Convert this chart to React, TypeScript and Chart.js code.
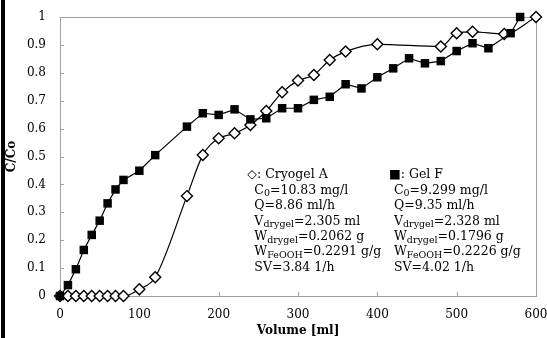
import React, { useEffect, useRef } from 'react';
import { Chart, registerables } from 'chart.js';

Chart.register(...registerables);

// Cryogel A (open diamonds)
const cryoVolume = [0, 10, 20, 30, 40, 50, 60, 70, 80, 100, 120, 160, 180, 200, 220, 240, 260, 280, 300, 320, 340, 360, 400, 480, 500, 520, 560, 600];
const cryoRatio = [0, 0, 0, 0, 0, 0, 0, 0, 0, 0.024, 0.067, 0.358, 0.505, 0.565, 0.583, 0.613, 0.663, 0.73, 0.772, 0.792, 0.846, 0.876, 0.902, 0.894, 0.942, 0.947, 0.939, 1.0];

// Gel F (filled squares)
const gelVolume = [0, 10, 20, 30, 40, 50, 60, 70, 80, 100, 120, 160, 180, 200, 220, 240, 260, 280, 300, 320, 340, 360, 380, 400, 420, 440, 460, 480, 500, 520, 540, 568, 580];
const gelRatio = [0, 0.039, 0.096, 0.165, 0.219, 0.27, 0.332, 0.382, 0.416, 0.449, 0.505, 0.607, 0.655, 0.649, 0.669, 0.633, 0.637, 0.673, 0.673, 0.703, 0.714, 0.759, 0.744, 0.784, 0.816, 0.852, 0.834, 0.842, 0.878, 0.906, 0.888, 0.942, 1.0];

const xTickValues = [0, 100, 200, 300, 400, 500, 600];
const xTickLabels = ['0', '100', '200', '300', '400', '500', '600'];
const yTickValues = [0, 0.1, 0.2, 0.3, 0.4, 0.5, 0.6, 0.7, 0.8, 0.9, 1];
const yTickLabels = ['0', '0.1', '0.2', '0.3', '0.4', '0.5', '0.6', '0.7', '0.8', '0.9', '1'];

const xTitle = 'Volume [ml]';
const yTitle = 'C/Co';

// Annotation text: [text, isSubscript]
type Seg = [string, boolean];
const cryoHeader = '◇: Cryogel A';
const cryoInfo: Seg[][] = [
  [['C', false], ['0', true], ['=10.83 mg/l', false]],
  [['Q=8.86 ml/h', false]],
  [['V', false], ['drygel', true], ['=2.305 ml', false]],
  [['W', false], ['drygel', true], ['=0.2062 g', false]],
  [['W', false], ['FeOOH', true], ['=0.2291 g/g', false]],
  [['SV=3.84 1/h', false]],
];
const gelHeader = '■: Gel F';
const gelInfo: Seg[][] = [
  [['C', false], ['0', true], ['=9.299 mg/l', false]],
  [['Q=9.35 ml/h', false]],
  [['V', false], ['drygel', true], ['=2.328 ml', false]],
  [['W', false], ['drygel', true], ['=0.1796 g', false]],
  [['W', false], ['FeOOH', true], ['=0.2226 g/g', false]],
  [['SV=4.02 1/h', false]],
];

const FONT = '"DejaVu Serif", serif';
const AXIS_COLOR = '#a0a0a0';

function drawRich(ctx: CanvasRenderingContext2D, x: number, y: number, segs: Seg[], size: number, subSize: number) {
  let cx = x;
  for (const [t, sub] of segs) {
    ctx.font = `${sub ? subSize : size}px ${FONT}`;
    ctx.fillText(t, cx, sub ? y + 3.5 : y);
    cx += ctx.measureText(t).width;
  }
}

const decorPlugin = {
  id: 'decor',
  beforeDraw(chart: any) {
    const ctx = chart.ctx as CanvasRenderingContext2D;
    ctx.save();
    ctx.fillStyle = '#000';
    ctx.fillRect(1, 0, 4, chart.height);
    ctx.restore();
  },
  beforeDatasetsDraw(chart: any) {
    const ctx = chart.ctx as CanvasRenderingContext2D;
    const { left, right, top, bottom } = chart.chartArea;
    const xs = chart.scales.x;
    const ys = chart.scales.y;
    ctx.save();
    ctx.strokeStyle = AXIS_COLOR;
    ctx.lineWidth = 1;
    ctx.beginPath();
    ctx.moveTo(left, Math.round(top) + 0.5);
    ctx.lineTo(Math.round(right) + 0.5, Math.round(top) + 0.5);
    ctx.lineTo(Math.round(right) + 0.5, bottom);
    // inward ticks
    for (const v of xTickValues) {
      const px = Math.round(xs.getPixelForValue(v)) + 0.5;
      ctx.moveTo(px, bottom);
      ctx.lineTo(px, bottom - 4);
    }
    for (const v of yTickValues) {
      const py = Math.round(ys.getPixelForValue(v)) + 0.5;
      ctx.moveTo(left, py);
      ctx.lineTo(left + 4, py);
    }
    ctx.stroke();
    ctx.restore();
  },
  afterDraw(chart: any) {
    const ctx = chart.ctx as CanvasRenderingContext2D;
    const xs = chart.scales.x;
    const ys = chart.scales.y;
    ctx.save();
    ctx.fillStyle = '#000';
    ctx.textBaseline = 'middle';
    ctx.textAlign = 'left';
    const size = 12.5;
    const sub = 9.5;
    const lh = 15.45;
    const y0 = ys.getPixelForValue(0.434);
    const lx = xs.getPixelForValue(245);
    const rx = xs.getPixelForValue(421);
    ctx.font = `${size}px ${FONT}`;
    ctx.fillText(cryoHeader, lx - 7, y0);
    ctx.fillText(gelHeader, rx - 5, y0);
    cryoInfo.forEach((segs, i) => drawRich(ctx, lx, y0 + lh * (i + 1), segs, size, sub));
    gelInfo.forEach((segs, i) => drawRich(ctx, rx, y0 + lh * (i + 1), segs, size, sub));
    ctx.restore();
  },
};

export default function App() {
  const ref = useRef<HTMLCanvasElement>(null);
  useEffect(() => {
    document.body.style.margin = '0';
    const chart = new Chart(ref.current!, {
      type: 'line',
      data: {
        datasets: [
          {
            label: 'Gel F',
            data: gelVolume.map((x, i) => ({ x, y: gelRatio[i] })),
            borderColor: '#000',
            borderWidth: 1.2,
            pointStyle: 'rect',
            pointRadius: 6,
            pointBackgroundColor: '#000',
            pointBorderColor: '#000',
            pointBorderWidth: 0,
            tension: 0,
            clip: false,
            order: 0,
          } as any,
          {
            label: 'Cryogel A',
            data: cryoVolume.map((x, i) => ({ x, y: cryoRatio[i] })),
            borderColor: '#000',
            borderWidth: 1.2,
            pointStyle: 'rectRot',
            pointRadius: 5.5,
            pointBackgroundColor: '#fff',
            pointBorderColor: '#000',
            pointBorderWidth: 1.4,
            cubicInterpolationMode: 'monotone',
            clip: false,
            order: 1,
          } as any,
        ],
      },
      options: {
        responsive: false,
        animation: false,
        events: [],
        layout: { padding: { left: 5, top: 17, right: 11, bottom: 0 } },
        plugins: { legend: { display: false }, tooltip: { enabled: false } },
        scales: {
          x: {
            type: 'linear',
            min: 0,
            max: 600,
            afterBuildTicks: (s: any) => {
              s.ticks = xTickValues.map((v) => ({ value: v }));
            },
            afterFit: (s: any) => {
              s.height = 42;
              s.paddingLeft = 0;
              s.paddingRight = 0;
            },
            ticks: {
              font: { family: FONT, size: 12 },
              color: '#000',
              padding: 12,
              maxRotation: 0,
              autoSkip: false,
              callback: (_v: any, i: number) => xTickLabels[i],
            },
            grid: { display: false, drawTicks: false },
            border: { display: true, color: AXIS_COLOR, width: 1 },
            title: {
              display: true,
              text: xTitle,
              color: '#000',
              font: { family: FONT, size: 12, weight: 'bold' },
              padding: 0,
            },
          },
          y: {
            type: 'linear',
            min: 0,
            max: 1,
            afterBuildTicks: (s: any) => {
              s.ticks = yTickValues.map((v) => ({ value: v }));
            },
            afterFit: (s: any) => {
              s.width = 55;
              s.paddingTop = 0;
              s.paddingBottom = 0;
            },
            ticks: {
              font: { family: FONT, size: 12 },
              color: '#000',
              padding: 14,
              autoSkip: false,
              callback: (_v: any, i: number) => yTickLabels[i],
            },
            grid: { display: false, drawTicks: false },
            border: { display: true, color: AXIS_COLOR, width: 1 },
            title: {
              display: true,
              text: yTitle,
              color: '#000',
              font: { family: FONT, size: 12, weight: 'bold' },
              padding: 0,
            },
          },
        },
      },
      plugins: [decorPlugin],
    } as any);
    return () => chart.destroy();
  }, []);
  return <canvas ref={ref} width={547} height={338} style={{ display: 'block', width: 547, height: 338 }} />;
}
